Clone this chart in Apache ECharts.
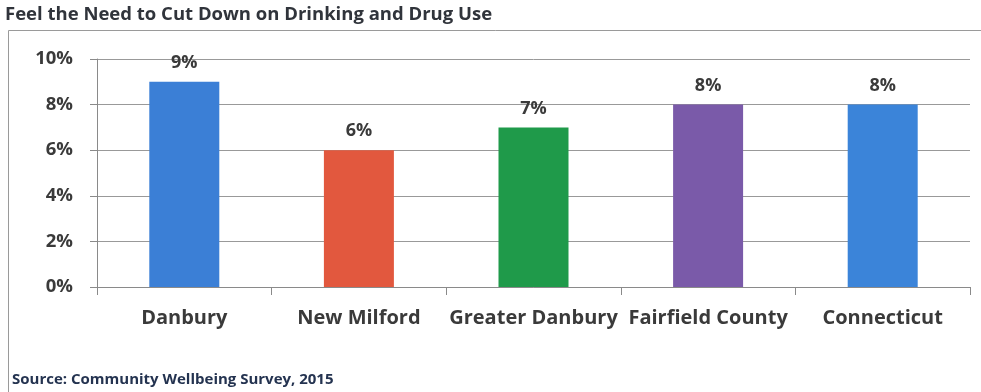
<!DOCTYPE html>
<html>
<head>
<meta charset="utf-8">
<style>
  html, body { margin: 0; padding: 0; background: #fff; }
  #chart { width: 981px; height: 392px; }
</style>
<script src="https://cdn.jsdelivr.net/npm/echarts@6/dist/echarts.min.js"></script>
</head>
<body>
<div id="chart"></div>
<script>
// Share of respondents who feel the need to cut down on drinking and drug use
const categories = ['Danbury', 'New Milford', 'Greater Danbury', 'Fairfield County', 'Connecticut'];
const values = [9, 6, 7, 8, 8];
const barColors = ['#3b7fd6', '#e2583e', '#1f9a4a', '#7a5aa9', '#3b84d9'];
const yTicks = [0, 2, 4, 6, 8, 10];

const FONT = '"Open Sans", "Liberation Sans", sans-serif';
const TEXT = '#3a3a3a';

const chart = echarts.init(document.getElementById('chart'), null, { renderer: 'canvas' });

chart.setOption({
  animation: false,
  backgroundColor: '#ffffff',
  title: [{
    text: 'Feel the Need to Cut Down on Drinking and Drug Use',
    left: 0, top: 0,
    textStyle: { fontFamily: FONT, fontWeight: 'bold', fontSize: 18.5, color: '#30343b' }
  }, {
    text: 'Source: Community Wellbeing Survey, 2015',
    left: 7, top: 367,
    textStyle: { fontFamily: FONT, fontWeight: 'bold', fontSize: 15, color: '#243350' }
  }],
  graphic: [{
    type: 'rect',
    shape: { x: 8.5, y: 30.5, width: 990, height: 400 },
    style: { fill: null, stroke: '#9a9a9a', lineWidth: 1 },
    silent: true
  }],
  grid: { left: 97, right: 11, top: 59, bottom: 105, containLabel: false },
  xAxis: {
    type: 'category',
    data: categories,
    axisLine: { show: true, lineStyle: { color: '#8a8a8a', width: 1 } },
    axisTick: { show: true, length: 8, lineStyle: { color: '#8a8a8a' } },
    axisLabel: {
      interval: 0,
      margin: 21,
      fontFamily: FONT, fontWeight: 'bold', fontSize: 20, color: TEXT
    }
  },
  yAxis: {
    type: 'value',
    min: 0, max: 10, interval: 2,
    axisLine: { show: true, lineStyle: { color: '#8a8a8a', width: 1 } },
    axisTick: { show: true, length: 7, lineStyle: { color: '#8a8a8a' } },
    splitLine: { show: true, lineStyle: { color: '#999999', width: 1 } },
    axisLabel: {
      margin: 24,
      formatter: v => yTicks.includes(v) ? v + '%' : '',
      fontFamily: FONT, fontWeight: 'bold', fontSize: 18.5, color: TEXT
    }
  },
  series: [{
    type: 'bar',
    barWidth: 70,
    data: values.map((v, i) => ({ value: v, itemStyle: { color: barColors[i] } })),
    label: {
      show: true, position: 'top', distance: 10,
      formatter: p => p.value + '%',
      fontFamily: FONT, fontWeight: 'bold', fontSize: 18, color: TEXT
    }
  }]
});
</script>
</body>
</html>
